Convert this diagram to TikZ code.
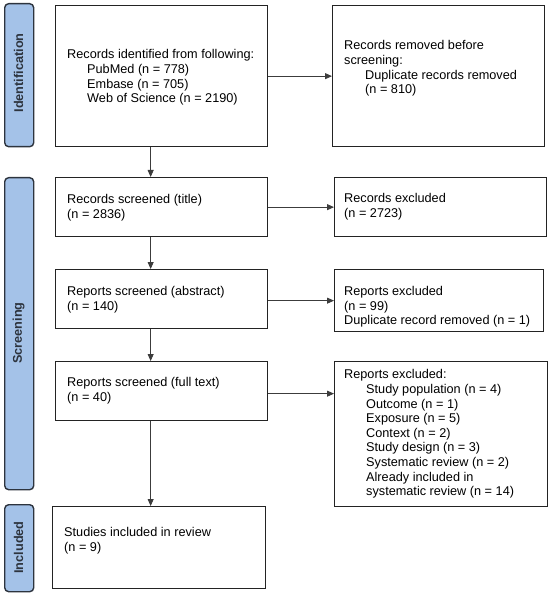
\documentclass[tikz,border=0pt]{standalone}
\usepackage{fontspec}
\setmainfont{Liberation Sans}
\usetikzlibrary{arrows.meta,calc}
\definecolor{sidefill}{RGB}{164,194,232}
\definecolor{sidedraw}{RGB}{45,52,62}
\definecolor{boxdraw}{RGB}{35,35,35}
\definecolor{arrcol}{RGB}{60,60,60}
\begin{document}
\begin{tikzpicture}[x=1pt,y=-1pt,
  font=\fontsize{12.7}{14.6}\selectfont,
  box/.style={draw=boxdraw,line width=1.3pt,rectangle,inner sep=0pt,anchor=north west},
  side/.style={draw=sidedraw,fill=sidefill,line width=1.4pt,rounded corners=4pt,rectangle,inner sep=0pt,anchor=north west,minimum width=29pt},
  sidetxt/.style={rotate=90,font=\fontsize{12.7}{14.6}\selectfont\bfseries,text=sidedraw,inner sep=0pt},
  txt/.style={anchor=west,align=left,inner sep=0pt},
  arr/.style={draw=arrcol,line width=0.8pt,-{Triangle[length=7pt,width=6pt]}}
]
\useasboundingbox (0,0) rectangle (550,593);
% side boxes
\node[side,minimum height=143pt] (sI) at (4,3) {};
\node[sidetxt] (sIt) at (18.5,73) {Identification};
\node[side,minimum height=312pt] (sS) at (4,177) {};
\node[sidetxt] (sSt) at (18.5,333) {Screening};
\node[side,minimum height=87pt] (sN) at (4,504) {};
\node[sidetxt] (sNt) at (18.5,547.5) {Included};
% left boxes
\node[box,minimum width=212pt,minimum height=141pt] (b1) at (55,5) {};
\node[txt] (t1) at (67,77.5) {Records identified from following:\\\hspace*{20pt}PubMed (n = 778)\\\hspace*{20pt}Embase (n = 705)\\\hspace*{20pt}Web of Science (n = 2190)};
\node[box,minimum width=212pt,minimum height=59pt] (b2) at (55,177) {};
\node[txt] (t2) at (67,207.5) {Records screened (title)\\(n = 2836)};
\node[box,minimum width=212pt,minimum height=59pt] (b3) at (55,269) {};
\node[txt] (t3) at (67,300) {Reports screened (abstract)\\(n = 140)};
\node[box,minimum width=212pt,minimum height=59pt] (b4) at (55,361) {};
\node[txt] (t4) at (67,391) {Reports screened (full text)\\(n = 40)};
\node[box,minimum width=213pt,minimum height=82pt] (b5) at (52,506) {};
\node[txt] (t5) at (64,540.5) {Studies included in review\\(n = 9)};
% right boxes
\node[box,minimum width=212pt,minimum height=141pt] (r1) at (332,5) {};
\node[txt] (u1) at (344,68.5) {Records removed before\\screening:\\\hspace*{21pt}Duplicate records removed\\\hspace*{21pt}(n = 810)};
\node[box,minimum width=212pt,minimum height=59pt] (r2) at (334,177) {};
\node[txt] (u2) at (344,206.5) {Records excluded\\(n = 2723)};
\node[box,minimum width=209pt,minimum height=62pt] (r3) at (334,269) {};
\node[txt] (u3) at (344,307) {Reports excluded\\(n = 99)\\Duplicate record removed (n = 1)};
\node[box,minimum width=213pt,minimum height=145pt] (r4) at (334,361) {};
\node[txt] (u4) at (344,434) {Reports excluded:\\\hspace*{22pt}Study population (n = 4)\\\hspace*{22pt}Outcome (n = 1)\\\hspace*{22pt}Exposure (n = 5)\\\hspace*{22pt}Context (n = 2)\\\hspace*{22pt}Study design (n = 3)\\\hspace*{22pt}Systematic review (n = 2)\\\hspace*{22pt}Already included in\\\hspace*{22pt}systematic review (n = 14)};
% vertical arrows
\draw[arr] ([xshift=-11pt]b1.south) -- ([xshift=-11pt]b2.north);
\draw[arr] ([xshift=-11pt]b2.south) -- ([xshift=-11pt]b3.north);
\draw[arr] ([xshift=-11pt]b3.south) -- ([xshift=-11pt]b4.north);
\coordinate (v4) at ([xshift=-11pt]b4.south);
\draw[arr] (v4) -- (v4 |- b5.north);
% horizontal arrows
\draw[arr] (b1.east) -- (b1.east -| r1.west);
\draw[arr] (b2.east) -- (b2.east -| r2.west);
\draw[arr] (b3.east |- r3.west) -- (r3.west);
\coordinate (h4) at ([yshift=-2.5pt]b4.east);
\draw[arr] (h4) -- (h4 -| r4.west);
\end{tikzpicture}
\end{document}
